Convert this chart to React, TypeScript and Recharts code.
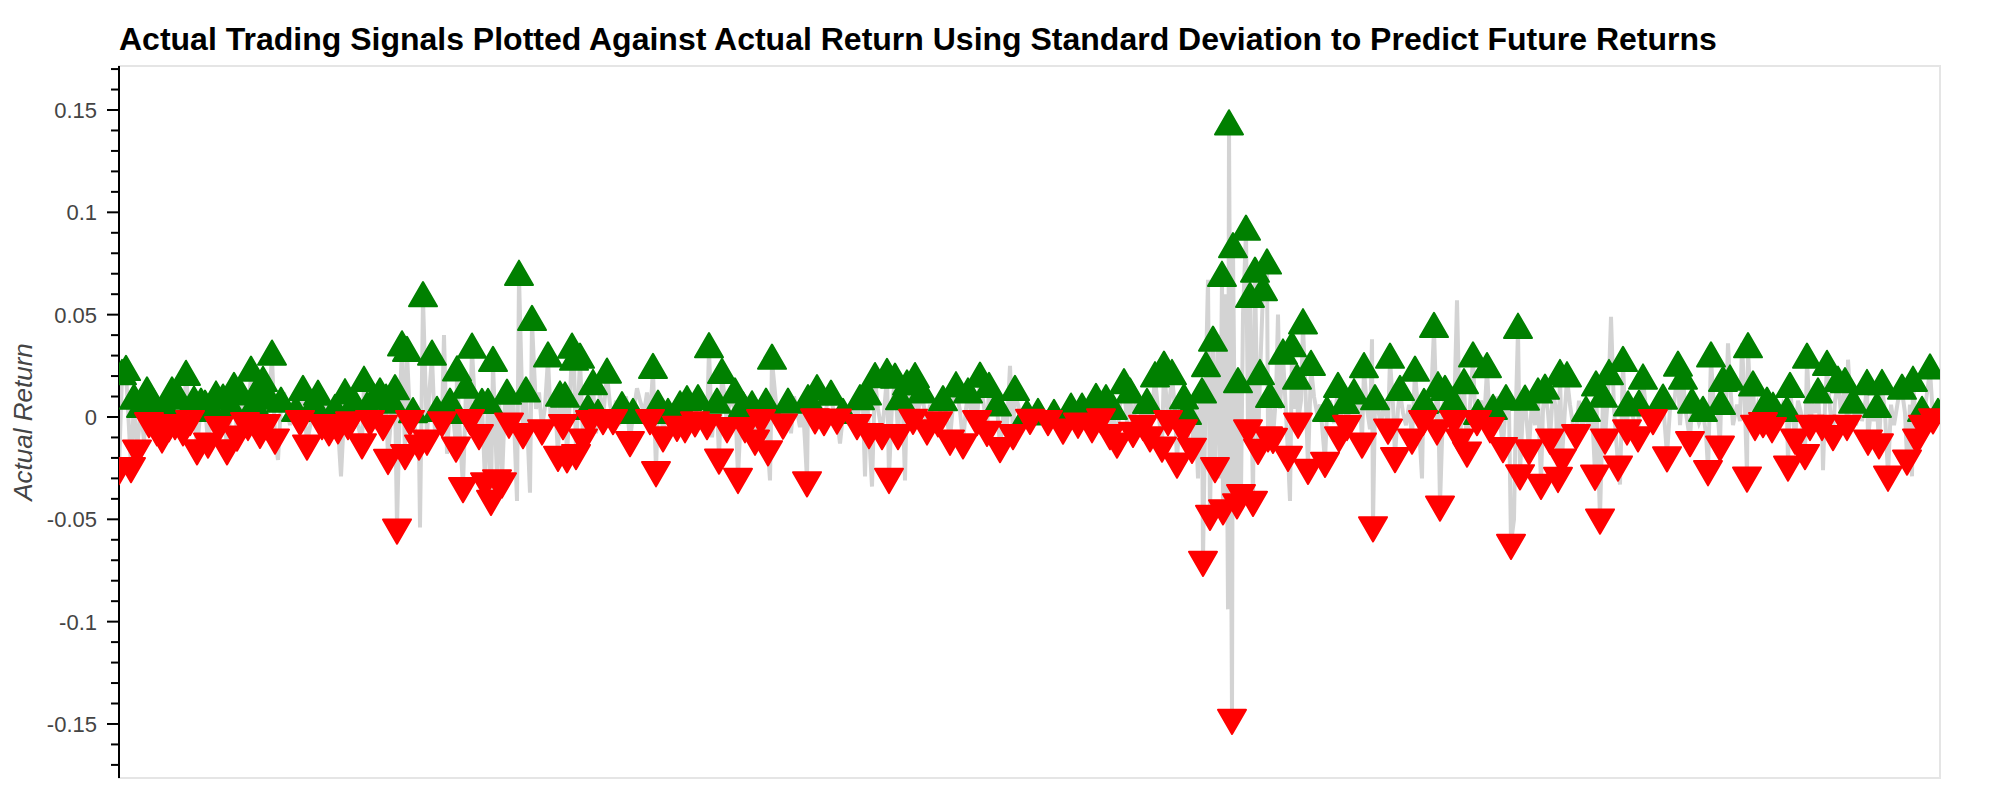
import React from 'react';
import { ComposedChart, Line, Scatter, XAxis, YAxis, ReferenceArea } from 'recharts';

// [day, actual return, signal]  signal: 1 = buy (green), -1 = sell (red), 0 = none
const period1: [number, number, number][] = [
  [119,-0.025,-1],[122,0.020,1],[126,0.022,1],[131,-0.024,-1],[134,0.008,1],[137,-0.0155,-1],[141,0.004,1],[144,-0.012,0],
  [147,0.0115,1],[149,-0.002,-1],[153,0.006,1],[157,-0.006,-1],[162,-0.0095,-1],[166,0.003,1],[169,-0.004,-1],[172,0.0115,1],
  [175,-0.003,-1],[179,0.008,1],[183,-0.006,-1],[186,0.0196,1],[190,-0.001,-1],[194,0.007,1],[197,-0.0153,-1],[201,0.006,1],
  [205,0.005,1],[208,-0.012,-1],[212,0.002,1],[216,0.0095,1],[219,-0.004,-1],[223,0.008,1],[227,-0.0153,-1],[231,0.004,1],
  [234,0.0137,1],[237,-0.0086,-1],[241,0.010,1],[245,-0.002,-1],[248,-0.0034,-1],[251,0.0216,1],[254,0.005,1],[257,0.0113,1],
  [260,-0.0072,-1],[263,0.0167,1],[266,-0.003,-1],[269,0.008,1],[272,0.0295,1],[275,-0.0101,-1],[278,-0.021,0],[281,0.0065,1],
  [284,0.012,0],[287,0.004,0],[290,-0.004,0],[293,0.008,0],[296,0.002,1],[300,-0.001,-1],[303,0.0122,1],[307,-0.013,-1],
  [311,-0.002,0],[314,0.005,1],[318,0.0099,1],[322,-0.003,-1],[326,0.008,0],[329,-0.006,-1],[332,0.003,0],[335,0.003,1],
  [338,-0.005,-1],[341,-0.029,0],[345,0.0106,1],[348,-0.003,-1],
];

const period2: [number, number, number][] = [
  [350,-0.0016,-1],[354,0.006,1],[358,-0.004,0],[362,-0.0124,-1],[364,0.0167,1],[367,0.004,1],[370,-0.001,-1],[374,0.008,1],
  [377,-0.006,0],[380,0.011,1],[383,-0.0034,-1],[386,0.008,1],[388,-0.020,-1],[392,0.006,1],[395,0.0126,1],[397,-0.054,-1],
  [400,0.010,0],[402,0.034,1],[405,-0.0176,-1],[407,0.0313,1],[410,-0.001,-1],[413,0.0014,1],[416,-0.010,0],[419,-0.013,-1],
  [420,-0.054,0],[423,0.058,1],[427,-0.0106,-1],[429,0.010,0],[432,0.0295,1],[435,-0.008,0],[437,0.002,1],[440,-0.006,0],
  [442,-0.0016,-1],[444,0.040,0],[447,-0.018,0],[450,0.006,1],[453,0.001,1],[456,-0.014,-1],[457,0.0218,1],[460,-0.010,0],
  [463,-0.0338,-1],[466,0.0133,1],[468,-0.005,0],[470,-0.0005,-1],[472,0.0329,1],[476,-0.004,0],[479,-0.0079,-1],[482,0.0059,1],
  [485,-0.0315,-1],[488,0.0059,1],[491,-0.040,-1],[493,0.0264,1],[497,-0.030,-1],[499,0.010,0],[502,-0.0315,-1],[505,0.008,0],
  [507,0.0104,1],[509,-0.0023,-1],[513,0.012,0],[517,-0.041,0],[519,0.0685,1],[523,-0.0074,-1],[526,0.0115,1],[530,-0.037,0],
  [532,0.0464,1],[536,0.004,0],[539,0.012,0],[542,-0.0056,-1],[545,0.005,0],[548,0.0286,1],[551,-0.004,0],[555,0.008,0],
  [558,-0.0185,-1],[560,0.0095,1],[563,-0.003,-1],[565,0.009,1],[567,-0.0192,-1],[570,0.010,0],[572,0.0329,1],[574,0.027,1],
  [576,-0.0176,-1],
];

const period3: [number, number, number][] = [
  [580,0.028,1],[583,-0.0101,-1],[586,0.006,0],[588,0.003,1],[590,-0.001,-1],[593,0.0151,1],[596,-0.008,0],[598,0.0005,1],
  [600,0.012,0],[603,-0.0005,-1],[607,0.0207,1],[610,0.006,0],[613,-0.0005,-1],[616,0.008,0],[619,-0.004,0],[622,0.0043,1],
  [626,0.010,0],[630,-0.0113,-1],[633,0.001,1],[637,0.014,0],[640,0.008,0],[644,0.002,0],[647,0.012,0],[650,-0.0005,-1],
  [653,0.023,1],[656,-0.026,-1],[658,0.005,1],[661,0.006,0],[663,-0.009,-1],[666,0.003,0],[668,0.001,1],[671,-0.006,0],
  [674,0.004,0],[677,-0.0038,-1],[680,0.0047,1],[683,-0.002,0],[685,-0.0045,-1],[687,0.0072,1],[690,0.002,0],[693,-0.003,0],
  [695,-0.0016,-1],[698,0.0077,1],[701,0.004,0],[704,0.001,0],[707,-0.003,-1],[709,0.0331,1],[712,-0.010,0],[715,0.008,0],
  [717,0.006,1],[719,-0.0198,-1],[722,0.0205,1],[725,0.008,0],[727,-0.0045,-1],[730,0.010,0],[733,0.006,0],[735,0.011,1],
  [738,-0.0293,-1],[741,0.003,0],[743,0.0043,1],[745,-0.0045,-1],[748,0.008,0],[752,0.0047,1],[755,-0.0106,-1],[758,0.002,0],
  [761,-0.0005,-1],[764,0.004,0],[766,0.006,1],[768,-0.0158,-1],[770,-0.031,0],[772,0.0275,1],[775,0.012,0],[778,-0.004,0],
  [781,0.004,0],[783,-0.0027,-1],[786,0.002,0],[788,0.006,1],[791,-0.008,0],[794,0.010,0],[797,0.003,0],[800,-0.005,0],
  [803,0.004,0],[805,-0.012,0],[807,-0.0309,-1],[808,0.0077,1],
];

const period4: [number, number, number][] = [
  [811,0.004,0],[815,-0.0002,-1],[817,0.0126,1],[821,0.004,0],[824,-0.001,-1],[827,0.006,0],[831,0.0099,1],[834,0.002,0],
  [837,-0.0003,-1],[840,-0.013,0],[843,0.001,1],[846,0.006,0],[849,-0.004,0],[853,0.008,0],[857,-0.003,-1],[860,0.0077,1],
  [863,0.004,0],[865,-0.029,0],[867,0.010,1],[869,-0.0074,-1],[872,-0.034,0],[875,0.0185,1],[878,0.004,0],[882,-0.0079,-1],
  [885,0.008,0],[887,0.0205,1],[889,-0.0293,-1],[892,0.006,0],[895,0.0182,1],[898,-0.0079,-1],[900,0.0077,1],[903,0.002,0],
  [905,-0.031,0],[907,0.0149,1],[910,0.004,0],[913,-0.0004,-1],[915,0.0185,1],[918,0.003,0],[922,0.011,1],[925,0.002,0],
  [927,-0.0056,-1],[930,0.006,0],[934,-0.004,0],[938,-0.0016,-1],[941,0.004,0],[943,0.0072,1],[946,0.002,0],[950,-0.0106,-1],
  [953,0.006,0],[956,0.014,1],[960,0.003,0],[963,-0.0124,-1],[966,0.004,0],[968,0.011,1],[971,0.002,0],[974,0.008,0],
  [977,-0.001,-1],[980,0.0187,1],[984,0.005,0],[987,-0.0063,-1],[989,0.0137,1],[993,0.003,0],[997,0.0047,1],[1000,-0.0142,-1],
  [1004,0.004,0],[1007,-0.005,0],[1010,0.025,0],[1013,-0.0079,-1],[1015,0.0122,1],[1019,0.004,0],[1023,-0.003,0],[1027,0.0003,1],
  [1030,-0.0004,-1],[1034,0.003,0],[1038,0.001,1],
];

const period5: [number, number, number][] = [
  [1041,0.003,0],[1044,-0.002,0],[1048,-0.001,-1],[1051,0.004,0],[1054,0.0005,1],[1057,0.005,0],[1060,-0.003,0],[1063,-0.0052,-1],
  [1067,0.002,0],[1071,0.0036,1],[1074,0.006,0],[1078,-0.0023,-1],[1082,0.0036,1],[1085,0.006,0],[1088,-0.002,0],[1092,-0.0045,-1],
  [1096,0.0083,1],[1099,0.002,0],[1101,-0.0002,-1],[1104,0.008,0],[1106,0.0077,1],[1110,-0.0079,-1],[1113,0.003,1],[1117,-0.012,-1],
  [1120,0.006,0],[1124,0.0155,1],[1127,-0.003,0],[1130,0.011,1],[1133,-0.0068,-1],[1136,0.010,0],[1140,0.004,0],[1143,-0.0034,-1],
  [1147,0.0059,1],[1150,-0.009,-1],[1153,0.008,0],[1155,0.0189,1],[1158,0.004,0],[1162,-0.014,-1],[1164,0.0241,1],[1168,-0.001,-1],
  [1170,0.010,0],[1172,0.020,1],[1175,0.004,0],[1177,-0.0218,-1],[1180,0.006,0],[1183,-0.0056,-1],[1184,0.0081,1],[1187,0.0005,1],
  [1189,-0.020,0],[1192,-0.0146,-1],[1195,0.008,0],[1198,-0.030,0],[1200,0.011,0],[1202,0.011,1],[1203,-0.0698,-1],[1206,0.0239,1],
  [1208,0.067,0],[1210,-0.0473,-1],[1213,0.0363,1],[1215,-0.024,-1],[1218,0.040,0],[1220,-0.030,0],[1222,0.068,1],[1223,-0.0446,-1],
  [1226,0.060,0],[1228,-0.094,0],[1229,0.142,1],[1232,-0.147,-1],[1233,0.082,1],[1235,-0.020,0],[1237,-0.0417,-1],[1238,0.016,1],
  [1241,-0.0372,-1],[1243,0.050,0],[1246,0.0905,1],[1248,-0.0056,-1],[1250,0.0577,1],[1253,-0.0405,-1],[1255,0.070,1],[1258,-0.0151,-1],
  [1260,0.020,1],[1263,0.061,1],[1267,0.074,1],[1268,-0.009,-1],
];

const period6: [number, number, number][] = [
  [1270,0.0088,1],[1273,-0.0097,-1],[1276,0.010,0],[1278,0.050,0],[1280,0.004,0],[1283,0.030,1],[1286,0.002,0],[1288,-0.0185,-1],
  [1290,-0.041,0],[1292,0.0336,1],[1295,0.004,0],[1297,0.0178,1],[1298,-0.0023,-1],[1301,0.008,0],[1303,0.0448,1],[1306,0.006,0],
  [1308,-0.0248,-1],[1311,0.0245,1],[1314,0.010,0],[1317,0.002,0],[1320,0.006,0],[1322,-0.004,0],[1325,-0.0214,-1],[1327,0.002,1],
  [1330,0.008,0],[1334,-0.003,0],[1338,0.0137,1],[1339,-0.009,-1],[1342,0.004,0],[1345,0.0059,1],[1347,-0.0034,-1],[1350,0.006,0],
  [1354,0.0106,1],[1357,0.002,0],[1360,0.008,0],[1362,-0.012,-1],[1364,0.0234,1],[1367,0.004,0],[1370,-0.006,0],[1372,0.038,0],
  [1373,-0.0529,-1],[1375,0.0077,1],[1378,0.004,0],[1381,-0.004,0],[1384,0.008,0],[1388,-0.0052,-1],[1390,0.028,1],[1393,0.006,0],
  [1395,-0.0191,-1],[1398,0.004,0],[1400,0.0122,1],[1403,0.002,0],[1406,-0.004,0],[1409,0.006,0],[1412,-0.0101,-1],[1415,0.0216,1],
  [1418,0.004,0],[1422,-0.030,0],[1423,-0.001,-1],[1424,0.0059,1],[1427,0.006,0],[1430,-0.004,0],[1434,0.043,1],[1437,-0.0056,-1],
  [1438,0.014,1],[1440,-0.0428,-1],[1443,0.004,0],[1445,0.0122,1],[1448,-0.004,0],[1451,0.004,0],[1453,0.0065,1],[1454,-0.001,-1],
  [1457,0.057,0],[1460,-0.0101,-1],[1464,0.0155,1],[1467,-0.0164,-1],[1470,0.006,0],[1473,0.0286,1],[1475,0.004,0],[1477,-0.001,-1],
  [1478,0.0005,1],[1481,0.008,0],[1484,-0.004,0],[1487,0.0234,1],[1490,-0.0045,-1],[1493,0.003,1],[1496,0.010,0],
];

const period7: [number, number, number][] = [
  [1500,-0.003,0],[1503,-0.0142,-1],[1506,0.0077,1],[1509,0.004,0],[1511,-0.0615,-1],[1514,-0.050,0],[1516,0.006,0],[1518,0.0426,1],
  [1520,-0.0275,-1],[1523,0.004,0],[1525,0.0075,1],[1529,-0.0153,-1],[1532,0.008,0],[1535,-0.004,0],[1538,0.011,1],[1541,-0.0322,-1],
  [1543,0.004,0],[1545,0.0128,1],[1548,0.002,0],[1550,-0.0101,-1],[1553,0.012,0],[1556,0.004,0],[1558,-0.0288,-1],[1560,0.020,1],
  [1562,-0.0198,-1],[1565,0.004,0],[1567,0.0189,1],[1570,0.006,0],[1573,-0.004,0],[1576,-0.0079,-1],[1579,0.008,0],[1582,-0.006,0],
  [1586,0.002,1],[1589,-0.006,0],[1592,0.004,0],[1595,-0.0277,-1],[1596,0.0144,1],[1600,-0.0491,-1],[1603,0.009,1],[1605,-0.0101,-1],
  [1607,0.004,0],[1609,0.020,1],[1611,0.049,0],[1614,0.004,0],[1618,-0.0232,-1],[1620,-0.033,0],[1623,0.0264,1],[1625,0.002,0],
  [1627,-0.0056,-1],[1628,0.0047,1],[1631,0.006,0],[1634,-0.003,0],[1638,-0.009,-1],[1639,0.005,1],[1643,0.0178,1],[1646,0.004,0],
  [1650,-0.003,0],[1653,-0.0005,-1],[1656,0.006,0],[1660,0.002,0],[1663,0.008,1],[1667,-0.0187,-1],[1670,0.004,0],[1674,0.006,0],
  [1678,0.0241,1],[1680,-0.004,0],[1683,0.0178,1],[1686,0.002,0],[1690,-0.0113,-1],[1692,0.006,1],[1695,0.004,0],[1699,-0.003,0],
  [1703,0.002,1],[1706,-0.008,0],[1708,-0.0255,-1],[1711,0.0286,1],[1714,0.004,0],[1717,0.006,0],[1720,-0.0135,-1],[1721,0.0054,1],
  [1723,0.0167,1],[1726,0.004,0],[1728,0.036,0],
];

const period8: [number, number, number][] = [
  [1730,0.0173,1],[1733,-0.004,0],[1737,0.006,0],[1740,-0.002,0],[1742,0.036,0],[1745,0.004,0],[1747,-0.0286,-1],[1748,0.0331,1],
  [1751,0.002,0],[1753,0.0144,1],[1755,-0.0034,-1],[1758,0.006,0],[1761,0.002,0],[1763,-0.002,-1],[1767,0.0065,1],[1770,0.002,0],
  [1772,-0.0045,-1],[1773,0.004,1],[1776,0.008,0],[1779,-0.004,0],[1783,0.006,0],[1787,0.002,1],[1788,-0.0232,-1],[1790,0.0137,1],
  [1792,0.004,0],[1795,-0.0101,-1],[1798,0.008,0],[1801,0.002,0],[1805,-0.0176,-1],[1807,0.028,1],[1810,-0.0034,-1],[1813,0.006,0],
  [1816,0.002,0],[1818,0.011,1],[1820,-0.004,0],[1822,-0.0034,-1],[1823,-0.026,0],[1825,0.006,0],[1827,0.0245,1],[1830,0.004,0],
  [1833,-0.0083,-1],[1835,0.008,0],[1838,0.0167,1],[1841,0.002,0],[1845,0.016,1],[1847,-0.0034,-1],[1848,0.028,0],[1851,0.004,0],
  [1853,0.006,1],[1856,-0.004,0],[1859,0.008,0],[1862,-0.002,0],[1865,0.006,0],[1867,0.0151,1],[1868,-0.0106,-1],[1871,0.004,0],
  [1874,-0.002,0],[1877,0.004,1],[1879,-0.0124,-1],[1882,0.0151,1],[1885,0.002,0],[1888,-0.0282,-1],[1891,0.006,0],[1894,-0.004,0],
  [1898,0.008,0],[1902,0.0128,1],[1905,0.002,0],[1907,-0.0203,-1],[1910,0.006,0],[1912,-0.029,0],[1913,0.0167,1],[1917,-0.0101,-1],
  [1920,0.004,0],[1922,0.002,1],[1923,-0.0034,-1],[1926,0.008,0],[1930,0.0227,1],[1933,-0.0002,-1],[1936,0.004,0],[1938,0.001,1],
  [1940,0.006,0],
];

const yTicks = [
  -0.17, -0.16, -0.15, -0.14, -0.13, -0.12, -0.11, -0.1, -0.09, -0.08, -0.07, -0.06, -0.05, -0.04, -0.03, -0.02, -0.01, 0,
  0.01, 0.02, 0.03, 0.04, 0.05, 0.06, 0.07, 0.08, 0.09, 0.1, 0.11, 0.12, 0.13, 0.14, 0.15, 0.16, 0.17,
];
const majorTicks = [-0.15, -0.1, -0.05, 0, 0.05, 0.1, 0.15];
const majorLabels = ['-0.15', '-0.1', '-0.05', '0', '0.05', '0.1', '0.15'];
const yDomain: [number, number] = [-0.1764, 0.1715];

const TITLE = 'Actual Trading Signals Plotted Against Actual Return Using Standard Deviation to Predict Future Returns';
const Y_LABEL = 'Actual Return';
const FONT = '"Liberation Sans", Arial, Helvetica, sans-serif';

const observations = [...period1, ...period2, ...period3, ...period4, ...period5, ...period6, ...period7, ...period8].map(
  ([day, ret, signal]) => ({ day, ret, signal })
);
const buySignals = observations.filter((o) => o.signal === 1);
const sellSignals = observations.filter((o) => o.signal === -1);

const SIDE = 28;
const TH = (SIDE * Math.sqrt(3)) / 2;

const UpTriangle = (props: any) => {
  const { cx, cy } = props;
  if (cx == null || cy == null) return <g />;
  const pts = `${cx},${cy - (2 * TH) / 3} ${cx + SIDE / 2},${cy + TH / 3} ${cx - SIDE / 2},${cy + TH / 3}`;
  return <polygon points={pts} fill="#008000" stroke="#008000" strokeWidth={2} strokeLinejoin="round" />;
};

const DownTriangle = (props: any) => {
  const { cx, cy } = props;
  if (cx == null || cy == null) return <g />;
  const pts = `${cx},${cy + (2 * TH) / 3} ${cx + SIDE / 2},${cy - TH / 3} ${cx - SIDE / 2},${cy - TH / 3}`;
  return <polygon points={pts} fill="#ff0000" stroke="#ff0000" strokeWidth={2} strokeLinejoin="round" />;
};

const YTick = (props: any) => {
  const { x, y, payload } = props;
  const v = payload.value;
  const idx = majorTicks.findIndex((m) => Math.abs(m - v) < 1e-9);
  const isMajor = idx >= 0;
  return (
    <g>
      <line x1={x - (isMajor ? 12 : 8)} x2={x} y1={y} y2={y} stroke="#000" strokeWidth={2} />
      {isMajor && (
        <text x={x - 22} y={y} dy="0.36em" textAnchor="end" fontSize={22} fill="#444444" fontFamily={FONT}>
          {majorLabels[idx]}
        </text>
      )}
    </g>
  );
};

export default function App() {
  return (
    <div style={{ position: 'absolute', left: 0, top: 0, width: 2000, height: 800, background: '#fff' }}>
      <div
        style={{
          position: 'absolute',
          left: 119,
          top: 23,
          fontFamily: FONT,
          fontWeight: 'bold',
          fontSize: 32,
          lineHeight: '32px',
          color: '#000',
          whiteSpace: 'nowrap',
        }}
      >
        {TITLE}
      </div>
      <svg style={{ position: 'absolute', left: 0, top: 0 }} width={60} height={800}>
        <text
          x={32}
          y={422}
          transform="rotate(-90 32 422)"
          textAnchor="middle"
          fontSize={26}
          fontStyle="italic"
          fill="#444444"
          fontFamily={FONT}
        >
          {Y_LABEL}
        </text>
      </svg>
      <div style={{ position: 'absolute', left: 0, top: 0 }}>
        <ComposedChart width={2000} height={800} data={observations} margin={{ top: 66, right: 60, bottom: 22, left: 19 }}>
          <XAxis dataKey="day" type="number" domain={['dataMin', 'dataMax']} hide allowDataOverflow />
          <YAxis
            type="number"
            domain={yDomain}
            ticks={yTicks}
            interval={0}
            width={100}
            allowDataOverflow
            tickSize={0}
            tickMargin={0}
            tick={<YTick />}
            axisLine={{ stroke: '#000', strokeWidth: 2 }}
            tickLine={false}
          />
          <ReferenceArea
            x1={119}
            x2={1940}
            y1={yDomain[0]}
            y2={yDomain[1]}
            fill="none"
            fillOpacity={0}
            stroke="#e5e5e5"
            strokeWidth={2}
            ifOverflow="visible"
          />
          <Line
            dataKey="ret"
            type="linear"
            stroke="#d3d3d3"
            strokeWidth={4}
            dot={false}
            activeDot={false}
            isAnimationActive={false}
          />
          <Scatter data={buySignals} dataKey="ret" shape={UpTriangle} isAnimationActive={false} />
          <Scatter data={sellSignals} dataKey="ret" shape={DownTriangle} isAnimationActive={false} />
        </ComposedChart>
      </div>
    </div>
  );
}
